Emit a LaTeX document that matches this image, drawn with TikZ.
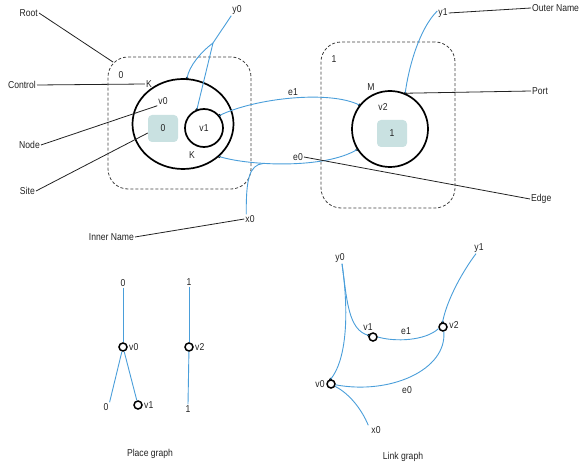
\documentclass[tikz,border=0pt]{standalone}
\usepackage{fontspec}
\setmainfont[FakeStretch=0.86]{Liberation Sans}
\usetikzlibrary{shapes.geometric,calc}
\definecolor{linkblue}{HTML}{4A9EDA}
\definecolor{sitefill}{HTML}{C9E1E1}
\definecolor{inkgray}{HTML}{222222}
\begin{document}
\begin{tikzpicture}[x=1pt,y=-1pt,
  lbl/.style={font=\fontsize{10}{12}\selectfont, text=inkgray, inner sep=1pt},
  rootbox/.style={draw=black!75, dashed, dash pattern=on 3pt off 2pt, line width=0.8pt,
                  rounded corners=20pt, rectangle, inner sep=0pt},
  bignode/.style={draw=black, line width=1.7pt, inner sep=0pt},
  sitebox/.style={fill=sitefill, rounded corners=4pt, inner sep=0pt,
                  font=\fontsize{10}{12}\selectfont, text=inkgray},
  link/.style={draw=linkblue, line width=0.9pt},
  leader/.style={draw=inkgray, line width=0.8pt},
  port/.style={fill=black, circle, inner sep=0pt, minimum size=3.2pt},
  gnode/.style={draw=black, line width=1.5pt, circle, fill=white, inner sep=0pt, minimum size=8pt}]
\useasboundingbox (0,0) rectangle (579,468);

% ---------------- bigraph ----------------
\node[rootbox, minimum width=143pt, minimum height=132pt] (r0) at (179.5,123) {};
\node[rootbox, minimum width=134pt, minimum height=166pt] (r1) at (388,125) {};
\node[lbl] (r0lab) at (121,75) {0};
\node[lbl] (r1lab) at (334,59) {1};

\node[bignode, ellipse, minimum width=101pt, minimum height=90pt] (v0) at (183,124) {};
\node[bignode, circle, minimum size=38pt] (v1) at (204,128) {};
\node[bignode, circle, minimum size=76pt] (v2) at (390,129) {};

\node[sitebox, minimum width=30pt, minimum height=27pt] (s0) at (163,128.5) {0};
\node[sitebox, minimum width=30pt, minimum height=27pt] (s1) at (392,133.5) {1};

\node[lbl] (k0) at (149,84) {K};
\node[lbl] (v0lab) at (163,101) {v0};
\node[lbl] (v1lab) at (204,128) {v1};
\node[lbl] (k1) at (192,155) {K};
\node[lbl] (m2) at (371,87) {M};
\node[lbl] (v2lab) at (383,107) {v2};

% ports
\node[port] (p0a) at (v0.85) {};
\node[port] (p0b) at (v0.-42) {};
\node[port] (p1a) at (v1.111) {};
\node[port] (p1b) at (v1.39) {};
\node[port] (p2a) at (v2.67) {};
\node[port] (p2b) at (v2.142) {};
\node[port] (p2c) at (v2.212) {};

% names and edges
\node[lbl] (y0) at (237,10) {y0};
\node[lbl] (y1) at (443,13) {y1};
\node[lbl] (x0) at (250,219) {x0};
\node[lbl] (e1) at (293,92) {e1};
\node[lbl] (e0) at (298,157) {e0};
\coordinate (j0) at (213,43);
\coordinate (j1) at (263,163.5);

\draw[link] (y0.south west) -- (j0);
\draw[link] (j0) .. controls (201,52) and (189,66) .. (p0a.center);
\draw[link] (j0) -- (p1a.center);
\draw[link] (p1b.center) .. controls (255,98) and (330,90) .. (p2b.center);
\draw[link] (p0b.center) .. controls (250,166) and (325,169) .. (p2c.center);
\draw[link] (j1) .. controls (249,165) and (246,180) .. ([xshift=2pt]x0.north west);
\draw[link] (p2a.center) .. controls (409,65) and (420,28) .. ([yshift=2pt]y1.west);

% annotations
\node[lbl, anchor=east] (tRoot) at (39,13) {Root};
\node[lbl, anchor=east] (tControl) at (37,85) {Control};
\node[lbl, anchor=east] (tNode) at (41,145) {Node};
\node[lbl, anchor=east] (tSite) at (36,191) {Site};
\node[lbl, anchor=east] (tInner) at (135,237) {Inner Name};
\node[lbl, anchor=west] (tOuter) at (531,8) {Outer Name};
\node[lbl, anchor=west] (tPort) at (531,91) {Port};
\node[lbl, anchor=west] (tEdge) at (530,199) {Edge};

\draw[leader] (tRoot.east) -- ($(r0.north west)+(5.5,5.5)$);
\draw[leader] (tControl.east) -- (k0.west);
\draw[leader] (tNode.east) -- (v0lab.south west);
\draw[leader] (tSite.east) -- ($(s0.west)+(0,4.5)$);
\draw[leader] (tInner.east) -- (x0.west);
\draw[leader] (y1.east) -- (tOuter.west);
\draw[leader] (p2a.center) -- (tPort.west);
\draw[leader] (e0.east) -- (tEdge.west);

% ---------------- place graph ----------------
\node[lbl] (pr0) at (123,283) {0};
\node[gnode] (pv0) at (123,347) {};
\node[lbl, anchor=west] (pv0lab) at (128,347) {v0};
\node[lbl] (ps0) at (106,407) {0};
\node[gnode] (pv1) at (138,405) {};
\node[lbl, anchor=west] (pv1lab) at (143,405) {v1};
\node[lbl] (pr1) at (189,282) {1};
\node[gnode] (pv2) at (189,347) {};
\node[lbl, anchor=west] (pv2lab) at (194,347) {v2};
\node[lbl] (ps1) at (188,409) {1};
\node[lbl] (ptitle) at (150,454) {Place graph};

\draw[link] (pr0.south) -- (pv0);
\draw[link] (pv0) -- (ps0.north east);
\draw[link] (pv0) -- (pv1);
\draw[link] (pr1.south) -- (pv2);
\draw[link] (pv2) -- (ps1.north);

% ---------------- link graph ----------------
\node[gnode] (lv0) at (331,384) {};
\node[gnode] (lv1) at (373,337) {};
\node[gnode] (lv2) at (443,327) {};
\node[lbl] (lv0lab) at (320,384) {v0};
\node[lbl] (lv1lab) at (368,327) {v1};
\node[lbl] (lv2lab) at (454,325) {v2};
\node[lbl] (ly0) at (340,258) {y0};
\node[lbl] (ly1) at (479,248) {y1};
\node[lbl] (lx0) at (376,430) {x0};
\node[lbl] (le1) at (406,331) {e1};
\node[lbl] (le0) at (407,390) {e0};
\node[lbl] (ltitle) at (403,457) {Link graph};

\node[port] (lq0a) at (lv0.95) {};
\node[port] (lq1a) at (lv1.160) {};
\node[port] (lq2a) at (lv2.95) {};

\draw[link] ([xshift=2pt]ly0.south) .. controls (347,300) and (348,330) .. (lq1a.center);
\draw[link] ([xshift=2pt]ly0.south) .. controls (350,320) and (345,362) .. (lq0a.center);
\draw[link] (lv1.east) .. controls (395,342) and (425,341) .. (lv2.200);
\draw[link] (lq2a.center) .. controls (446,303) and (460,275) .. ([xshift=-3pt]ly1.south);
\draw[link] (lv2.-80) .. controls (447,370) and (390,395) .. (lv0.-10);
\draw[link] (lv0.-30) .. controls (350,394) and (362,410) .. ([xshift=-2pt]lx0.north west);
\end{tikzpicture}
\end{document}
